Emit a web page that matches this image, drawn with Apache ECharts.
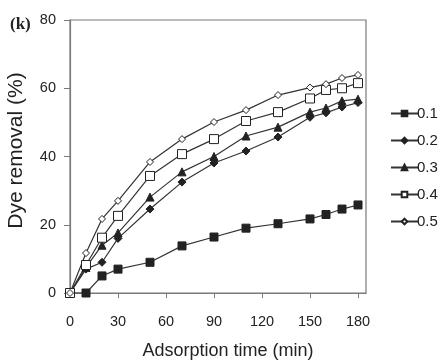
<!DOCTYPE html>
<html><head><meta charset="utf-8">
<script src="https://cdn.jsdelivr.net/npm/echarts@6/dist/echarts.min.js"></script>
<style>html,body{margin:0;padding:0;background:#fff}#c{width:438px;height:361px}</style>
</head><body><div id="c"></div>
<script>
const times = [0, 10, 20, 30, 50, 70, 90, 110, 130, 150, 160, 170, 180];
const s01 = [0, 0, 5, 7, 9, 13.8, 16.4, 19, 20.3, 21.7, 23, 24.6, 25.8];
const s02 = [0, 7, 9, 16, 24.6, 32.5, 38.1, 41.6, 45.7, 51.5, 52.8, 54.5, 55.8];
const s03 = [0, 7.5, 14, 17.6, 28.1, 35.5, 40, 46, 48.6, 53, 54.2, 56.3, 56.8];
const s04 = [0, 8.2, 16.2, 22.6, 34.3, 40.7, 45.1, 50.4, 53, 57, 59.5, 60, 61.5];
const s05 = [0, 11.7, 21.7, 27, 38.4, 45.1, 50.1, 53.6, 58, 60.2, 61.2, 63, 63.9];
const seriesNames = ['0.1', '0.2', '0.3', '0.4', '0.5'];
const xTicks = [0, 30, 60, 90, 120, 150, 180];

const ink = '#222';
const axisCol = '#7a7a7a';
const font = 'Liberation Sans, Arial, sans-serif';

function mk(name, vals, symbol, size, fill) {
  return {
    name: name, type: 'line',
    data: times.map((t, i) => [t, vals[i]]),
    symbol: symbol, symbolSize: size,
    lineStyle: { color: '#333', width: 1.2 },
    itemStyle: { color: fill, borderColor: ink, borderWidth: 1 },
    color: fill,
    z: 3
  };
}

const chart = echarts.init(document.getElementById('c'), null, { renderer: 'canvas' });
chart.setOption({
  animation: false,
  backgroundColor: '#fff',
  title: {
    text: '(k)', left: 5, top: 11,
    textStyle: { fontFamily: 'Liberation Serif, Times New Roman, serif', fontWeight: 'bold', fontSize: 17, color: ink }
  },
  grid: { left: 70, right: 72, top: 20, bottom: 68, show: true, borderColor: axisCol, borderWidth: 1.2, containLabel: false, outerBoundsMode: 'none' },
  xAxis: {
    type: 'value', min: 0, max: 185,
    name: 'Adsorption time (min)', nameLocation: 'middle', nameGap: 49,
    nameTextStyle: { fontFamily: font, fontSize: 18, color: ink, padding: [0, 0, 0, 20] },
    axisLine: { show: true, lineStyle: { color: axisCol, width: 1.2 } },
    axisTick: { show: true, inside: false, length: 5, lineStyle: { color: axisCol }, customValues: xTicks },
    axisLabel: { fontFamily: font, fontSize: 14.5, color: ink, margin: 21, customValues: xTicks },
    splitLine: { show: false }
  },
  yAxis: {
    type: 'value', min: 0, max: 80, interval: 20,
    name: 'Dye removal (%)', nameLocation: 'middle', nameGap: 43,
    nameTextStyle: { fontFamily: font, fontSize: 21, color: ink, padding: [0, 0, 0, 12] },
    axisLine: { show: true, lineStyle: { color: axisCol, width: 1.2 } },
    axisTick: { show: true, inside: false, length: 6, lineStyle: { color: axisCol } },
    axisLabel: { fontFamily: font, fontSize: 14.5, color: ink, margin: 14 },
    splitLine: { show: false }
  },
  legend: {
    orient: 'vertical', left: 385, top: 101,
    itemWidth: 27, itemHeight: 7, itemGap: 12,
    textStyle: { fontFamily: font, fontSize: 15, color: ink, padding: [0, 0, 0, -6] },
    data: seriesNames
  },
  series: [
    mk(seriesNames[0], s01, 'rect', 8, ink),
    mk(seriesNames[1], s02, 'diamond', 8, ink),
    mk(seriesNames[2], s03, 'triangle', 8, ink),
    mk(seriesNames[3], s04, 'rect', 9, '#fff'),
    mk(seriesNames[4], s05, 'diamond', 7, '#fff')
  ]
});
</script></body></html>
